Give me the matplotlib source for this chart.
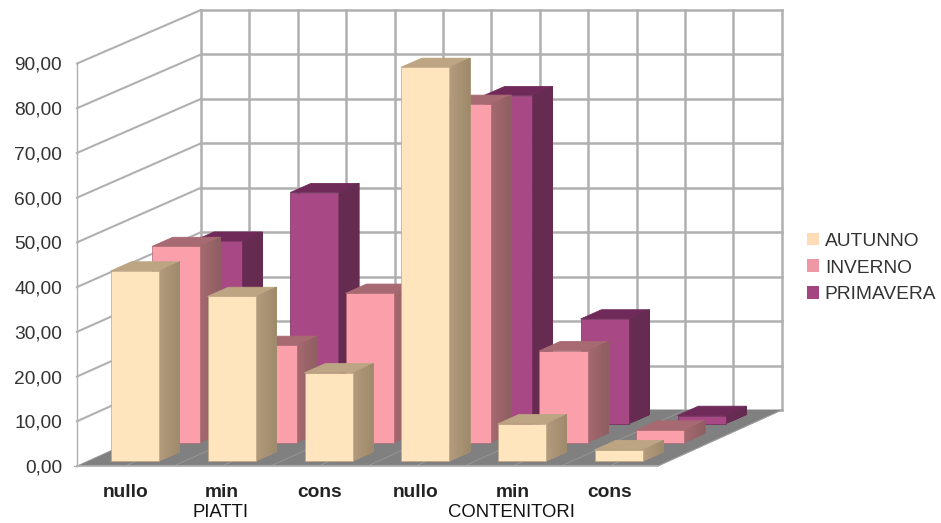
import matplotlib
matplotlib.use('Agg')
import matplotlib.pyplot as plt
from matplotlib.colors import to_rgb
from matplotlib.patches import Patch, Polygon
import numpy as np

plt.rcParams['font.family'] = ['Liberation Sans', 'DejaVu Sans']

categories = ['nullo', 'min', 'cons', 'nullo', 'min', 'cons']
groups = ['PIATTI', 'CONTENITORI']
series_names = ['AUTUNNO', 'INVERNO', 'PRIMAVERA']
autunno = [42.6, 36.9, 19.8, 88.2, 8.4, 2.6]
inverno = [44.0, 21.8, 33.5, 75.9, 20.6, 2.8]
primavera = [41.1, 52.0, 22.0, 73.8, 23.6, 1.9]
y_ticks = [0, 10, 20, 30, 40, 50, 60, 70, 80, 90]

W, H = 941, 523
GRID = '#b0b0b0'
TEXT = '#333333'
FS = 13.8

# front, top, side-start, side-end for each series
colors = [
    ('#ffe5bd', '#bda583', '#b39b7c', '#9f8a6c'),
    ('#fb9fab', '#a86a72', '#a5686f', '#8e5f62'),
    ('#a84884', '#702a5a', '#662b50', '#662b50'),
]
legend_colors = ['#ffdcb6', '#ee97a5', '#a24580']

fig = plt.figure(figsize=(W / 100, H / 100), dpi=100)
ax = fig.add_axes([77 / W, 1 - 466 / H, 581 / W, 402.5 / H])
ax.set_xlim(0, 6)
ax.set_ylim(0, 90)
for s in ax.spines.values():
    s.set_visible(False)
ax.patch.set_visible(False)

# one depth unit (one series slot) expressed in data units
dx_depth = 41.3 / (581 / 6)
dy_depth = 18.67 / (402.5 / 90)
shrink = 0.0021  # slight perspective: heights get smaller towards the back


def proj(x, d, v):
    return x + d * dx_depth, v * (1 - shrink * d) + d * dy_depth


def face(pts, color, z, **kw):
    ax.add_patch(Polygon(pts, closed=True, fc=color, ec=kw.pop('ec', 'none'),
                         clip_on=False, zorder=z, **kw))


def wall_line(p, q, lw=1.8, color=GRID, z=2):
    ax.plot([p[0], q[0]], [p[1], q[1]], color=color, lw=lw, clip_on=False,
            zorder=z, solid_capstyle='projecting')


# back wall, side wall and floor
for v in y_ticks:
    wall_line(proj(0, 3, v), proj(6, 3, v))
    if v > 0:
        wall_line(proj(0, 0, v), proj(0, 3, v), lw=1.5)
for x in np.arange(0, 6.5, 0.5):
    wall_line(proj(x, 3, 0), proj(x, 3, 90))
wall_line(proj(0, 0, 0), proj(0, 0, 90), lw=1.0)

face([proj(0, 0, 0), proj(6, 0, 0), proj(6, 3, 0), proj(0, 3, 0)], '#808080', 3)
for x in np.arange(0.5, 6.5, 0.5):
    wall_line(proj(x, 0, 0), proj(x, 3, 0), lw=0.6, color='#999999', z=3.1)
wall_line(proj(0, 0, 0), proj(6, 0, 0), lw=1.3, z=3.2)
wall_line(proj(0, 0, 0), proj(0, 3, 0), lw=0.6, color='#999999', z=3.1)
wall_line(proj(6, 0, 0), proj(6, 3, 0), lw=0.6, color='#a0a0a0', z=3.1)
wall_line(proj(-0.03, 0, 0), proj(0, 0, 0), lw=1.0, z=3.2)


def draw_bar(c, s, value, cols, z):
    front, top, side_a, side_b = cols
    x0, x1 = c + 0.243, c + 0.74
    d0, d1 = s + 0.25, s + 0.75
    face([proj(x0, d0, value), proj(x1, d0, value), proj(x1, d1, value), proj(x0, d1, value)],
         top, z + 0.1, ec=top, lw=0.6, joinstyle='round')
    # side face fades from front to back, each strip painted over the previous one
    a, b = np.array(to_rgb(side_a)), np.array(to_rgb(side_b))
    edges = np.linspace(d0, d1, 15)
    for i in range(14):
        col = a + (b - a) * i / 13
        face([proj(x1, edges[i], 0), proj(x1, d1, 0),
              proj(x1, d1, value), proj(x1, edges[i], value)], col, z + 0.2 + i * 0.001)
    face([proj(x0, d0, 0), proj(x1, d0, 0), proj(x1, d0, value), proj(x0, d0, value)],
         front, z + 0.3, ec=top, lw=0.5)


all_values = [autunno, inverno, primavera]
for s in [2, 1, 0]:
    for c, val in enumerate(all_values[s]):
        draw_bar(c, s, val, colors[s], 10 + (2 - s))

ax.set_yticks(y_ticks)
ax.yaxis.set_major_formatter(plt.FuncFormatter(lambda v, p: ('%.2f' % v).replace('.', ',')))
ax.tick_params(axis='y', length=0, pad=10.8, labelsize=FS, labelcolor=TEXT)
ax.set_xticks(np.arange(6) + 0.5)
ax.set_xticklabels(categories, fontweight='bold')
ax.tick_params(axis='x', length=0, pad=13.3, labelsize=FS, labelcolor='#222222')

# second level of the category axis
for name, x in zip(groups, [1.5, 4.5]):
    ax.annotate(name, xy=(x, 0), xycoords=('data', 'axes fraction'), xytext=(-1, -33.8),
                textcoords='offset points', ha='center', va='center',
                fontsize=13.3, color='#111111')

handles = [Patch(fc=c, ec='none') for c in legend_colors]
fig.legend(handles, series_names, loc='center left', bbox_to_anchor=(807 / W, 1 - 268 / H),
           frameon=False, fontsize=FS, labelcolor=TEXT, handlelength=0.63,
           handleheight=0.63, handletextpad=0.3, labelspacing=0.5,
           borderpad=0, borderaxespad=0)

fig.savefig('out.png', dpi=100)
